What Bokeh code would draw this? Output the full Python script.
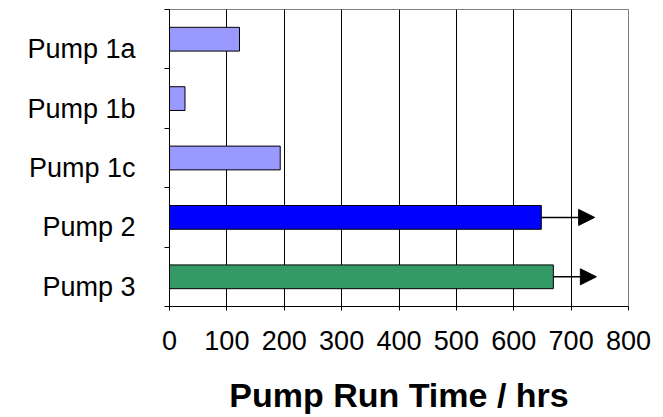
from bokeh.plotting import figure
from bokeh.models import ColumnDataSource, FixedTicker, Arrow, NormalHead, Range1d, LinearAxis
from bokeh.embed import file_html
from bokeh.resources import INLINE

# data (top to bottom)
categories = ["Pump 1a", "Pump 1b", "Pump 1c", "Pump 2", "Pump 3"]
run_hours = [122, 27, 193, 648, 669]
bar_colors = ["#9999FF", "#9999FF", "#9999FF", "#0000FF", "#339966"]
arrow_pumps = ["Pump 2", "Pump 3"]
arrow_to = [741, 744]
x_ticks = [0, 100, 200, 300, 400, 500, 600, 700, 800]

n = len(categories)
ypos = [n - i - 0.5 for i in range(n)]
ymap = dict(zip(categories, ypos))

src = ColumnDataSource(dict(cat=categories, hrs=run_hours, y=ypos, color=bar_colors))

FONT = "Liberation Sans"
LABEL_SHIFT = 0.17  # category labels sit slightly below bar centres, as in the original

p = figure(width=663, height=417, x_range=Range1d(0, 800), y_range=Range1d(0, n),
           min_border_left=169, min_border_right=35, min_border_top=9, min_border_bottom=111,
           output_backend="svg", toolbar_location=None)
p.extra_y_ranges = {"lab": Range1d(LABEL_SHIFT, n + LABEL_SHIFT)}

p.outline_line_color = "#808080"
p.outline_line_width = 1

p.hbar(y="y", left=0, right="hrs", height=0.4, fill_color="color",
       line_color="#000000", line_width=1, source=src)

asrc = ColumnDataSource(dict(x0=[run_hours[categories.index(c)] for c in arrow_pumps],
                             x1=arrow_to, y=[ymap[c] for c in arrow_pumps]))
p.add_layout(Arrow(end=NormalHead(size=16, fill_color="black", line_color="black"),
                   x_start="x0", y_start="y", x_end="x1", y_end="y",
                   line_color="black", line_width=1.5, source=asrc))

# grid
p.ygrid.visible = False
p.xgrid.ticker = FixedTicker(ticks=x_ticks)
p.xgrid.grid_line_color = "#000000"
p.xgrid.grid_line_width = 1

# x axis
xa = p.xaxis[0]
xa.ticker = FixedTicker(ticks=x_ticks)
xa.axis_line_color = "#000000"
xa.major_tick_line_color = "#000000"
xa.major_tick_out = 4
xa.major_tick_in = 0
xa.minor_tick_out = 0
xa.minor_tick_in = 0
xa.major_label_text_font = FONT
xa.major_label_text_font_size = "27px"
xa.major_label_text_color = "#000000"
xa.major_label_standoff = 20
xa.axis_label = "Pump Run Time / hrs"
xa.axis_label_text_font = FONT
xa.axis_label_text_font_size = "34px"
xa.axis_label_text_font_style = "bold"
xa.axis_label_text_color = "#000000"
xa.axis_label_standoff = 23

# y axis (inner): tick marks at category boundaries only
ya = p.yaxis[0]
ya.ticker = FixedTicker(ticks=[], minor_ticks=list(range(n + 1)))
ya.axis_line_color = "#000000"
ya.major_tick_out = 0
ya.major_tick_in = 0
ya.major_label_standoff = 0
ya.minor_tick_line_color = "#000000"
ya.minor_tick_out = 5
ya.minor_tick_in = 0

# y axis (outer): category labels
la = LinearAxis(y_range_name="lab", ticker=FixedTicker(ticks=ypos),
                major_label_overrides={y: c for y, c in zip(ypos, categories)},
                axis_line_color=None, major_tick_line_color=None, minor_tick_line_color=None,
                major_tick_out=0, major_tick_in=0, minor_tick_out=0, minor_tick_in=0,
                major_label_text_font=FONT, major_label_text_font_size="27px",
                major_label_text_color="#000000", major_label_standoff=29)
p.add_layout(la, "left")

open("out.html", "w").write(file_html(p, INLINE))
